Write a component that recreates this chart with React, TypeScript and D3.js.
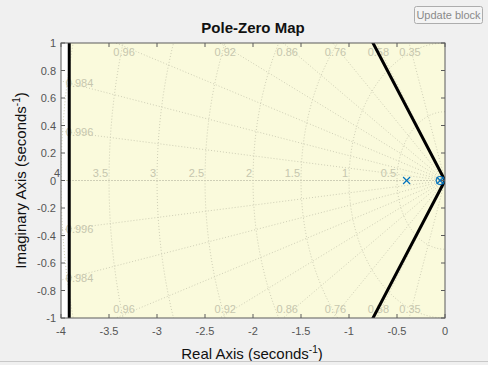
import React from "react";
import * as d3 from "d3";

// axes data
const xTicks = [-4, -3.5, -3, -2.5, -2, -1.5, -1, -0.5, 0];
const yTicks = [1, 0.8, 0.6, 0.4, 0.2, 0, -0.2, -0.4, -0.6, -0.8, -1];

// sgrid values
const zetaValues = [1, 0.996, 0.984, 0.96, 0.92, 0.86, 0.76, 0.58, 0.35];
const zetaLabels = ["", "0.996", "0.984", "0.96", "0.92", "0.86", "0.76", "0.58", "0.35"];
const wnValues = [0.5, 1, 1.5, 2, 2.5, 3, 3.5, 4];
const wnLabels = ["0.5", "1", "1.5", "2", "2.5", "3", "3.5", "4"];

// poles / zeros
const poles = [-0.4, -0.05];
const zeros = [-0.05];

// design constraints
const sigmaBound = -3.914;
const zetaBound = 0.6;

const W = 488;
const H = 365;
const left = 61, right = 445, top = 43, bottom = 318;

const GRID = "#cfcfb6";
const BLUE = "#0072bd";

export default function App() {
  const x = d3.scaleLinear().domain([-4, 0]).range([left, right]);
  const y = d3.scaleLinear().domain([-1, 1]).range([bottom, top]);

  const line = d3.line<[number, number]>().x(d => x(d[0])).y(d => y(d[1]));

  // wn half circles
  const circle = (wn: number) =>
    line(d3.range(0, 181, 2).map(a => {
      const t = (90 + a) * Math.PI / 180;
      return [wn * Math.cos(t), wn * Math.sin(t)] as [number, number];
    }));

  const rays = zetaValues.map(z => {
    const slope = Math.tan(Math.acos(z));
    return { z, slope };
  });

  const bSlope = Math.tan(Math.acos(zetaBound));

  const font = "'Liberation Sans', Arial, Helvetica, sans-serif";

  return (
    <div style={{ position: "fixed", left: 0, top: 0 }}>
      <svg width={W} height={H} style={{ display: "block", background: "#f0f0f0" }} fontFamily={font}>
        <defs>
          <clipPath id="plot">
            <rect x={left} y={top} width={right - left} height={bottom - top} />
          </clipPath>
        </defs>

        {/* button */}
        <rect x={414.5} y={6.5} width={68} height={17} rx={2} fill="#f4f4f4" stroke="#adadad" />
        <text x={448.5} y={19} textAnchor="middle" fontSize={11} fill="#8a8a8a">Update block</text>

        <text x={253} y={33} textAnchor="middle" fontSize={15} fontWeight="bold" fill="#111">Pole-Zero Map</text>

        {/* background */}
        <rect x={left} y={top} width={right - left} height={bottom - top} fill="#fafadc" />
        <rect x={left} y={top} width={x(sigmaBound) - left} height={bottom - top} fill="#ffffff" />

        <g clipPath="url(#plot)">
          {wnValues.map(wn => (
            <path key={"c" + wn} d={circle(wn) || ""} fill="none" stroke={GRID} strokeDasharray="1,2" />
          ))}
          {rays.map(r => (
            <path key={"r" + r.z}
              d={line([[-10, 10 * r.slope], [0, 0], [-10, -10 * r.slope]]) || ""}
              fill="none" stroke={GRID} strokeDasharray="1,2" />
          ))}
        </g>

        {/* zeta labels */}
        {rays.filter((r, i) => zetaLabels[i] !== "").map(r => {
          const label = zetaLabels[zetaValues.indexOf(r.z)];
          const xc = -1 / r.slope;
          if (xc > -4) {
            return (
              <g key={"zl" + r.z} fontSize={11} fill="#c6c6ae">
                <text x={x(xc * 0.975)} y={y(0.935)} textAnchor="middle" dominantBaseline="central">{label}</text>
                <text x={x(xc * 0.975)} y={y(-0.935)} textAnchor="middle" dominantBaseline="central">{label}</text>
              </g>
            );
          }
          const yc = 4 * r.slope * 0.975;
          return (
            <g key={"zl" + r.z} fontSize={11} fill="#c6c6ae">
              <text x={x(-3.95)} y={y(yc)} dominantBaseline="central">{label}</text>
              <text x={x(-3.95)} y={y(-yc)} dominantBaseline="central">{label}</text>
            </g>
          );
        })}

        {/* wn labels */}
        {wnValues.map((wn, i) => (
          <text key={"wl" + wn} x={x(-wn) - 1} y={y(0.055)} textAnchor="end" dominantBaseline="central"
            fontSize={11} fill={wn === 4 ? "#555" : "#c6c6ae"}>{wnLabels[i]}</text>
        ))}

        {/* constraints */}
        <g clipPath="url(#plot)">
          <line x1={x(sigmaBound)} x2={x(sigmaBound)} y1={y(1)} y2={y(-1)} stroke="#000" strokeWidth={3} />
          <path d={line([[-2, 2 * bSlope], [0, 0], [-2, -2 * bSlope]]) || ""} fill="none" stroke="#000" strokeWidth={3} />
        </g>

        {/* markers */}
        {poles.map((p, i) => (
          <g key={"p" + i} stroke={BLUE} strokeWidth={1.2}>
            <line x1={x(p) - 3.5} x2={x(p) + 3.5} y1={y(0) - 3.5} y2={y(0) + 3.5} />
            <line x1={x(p) - 3.5} x2={x(p) + 3.5} y1={y(0) + 3.5} y2={y(0) - 3.5} />
          </g>
        ))}
        {zeros.map((z, i) => (
          <circle key={"z" + i} cx={x(z)} cy={y(0)} r={4} fill="none" stroke={BLUE} strokeWidth={1.2} />
        ))}

        {/* box + ticks */}
        <rect x={left} y={top} width={right - left} height={bottom - top} fill="none" stroke="#5a5a5a" />
        {xTicks.map(t => (
          <g key={"xt" + t} stroke="#5a5a5a">
            <line x1={x(t)} x2={x(t)} y1={bottom} y2={bottom - 4} />
            <line x1={x(t)} x2={x(t)} y1={top} y2={top + 4} />
          </g>
        ))}
        {yTicks.map(t => (
          <g key={"yt" + t} stroke="#5a5a5a">
            <line x1={left} x2={left + 4} y1={y(t)} y2={y(t)} />
            <line x1={right} x2={right - 4} y1={y(t)} y2={y(t)} />
          </g>
        ))}
        {xTicks.map(t => (
          <text key={"xl" + t} x={x(t)} y={335} textAnchor="middle" fontSize={11} fill="#555">{String(t)}</text>
        ))}
        {yTicks.map(t => (
          <text key={"yl" + t} x={left - 5} y={y(t)} textAnchor="end" dominantBaseline="central" fontSize={11} fill="#555">{String(t)}</text>
        ))}

        {/* axis labels */}
        <text x={252} y={359} textAnchor="middle" fontSize={15} fill="#111">
          Real Axis (seconds<tspan dy={-6} fontSize={10}>-1</tspan><tspan dy={6}>)</tspan>
        </text>
        <text transform={`translate(26,${(top + bottom) / 2}) rotate(-90)`} textAnchor="middle" fontSize={15} fill="#111">
          Imaginary Axis (seconds<tspan dy={-6} fontSize={10}>-1</tspan><tspan dy={6}>)</tspan>
        </text>

        <line x1={0} x2={W} y1={361.5} y2={361.5} stroke="#c8c8c8" />
      </svg>
    </div>
  );
}
